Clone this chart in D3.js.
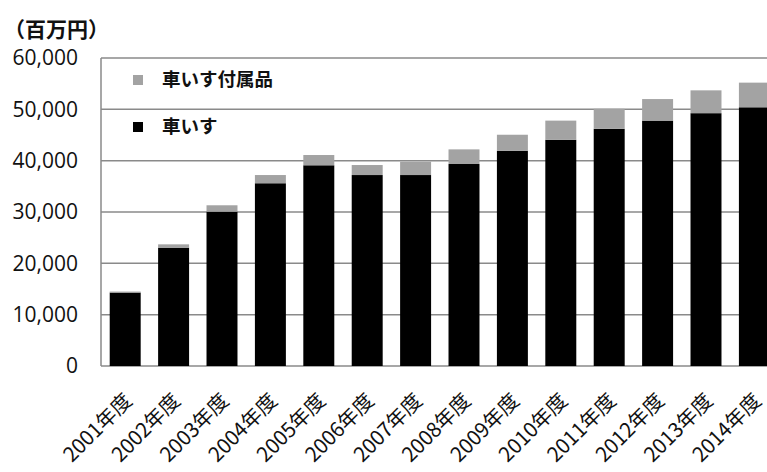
<!DOCTYPE html>
<html>
<head>
<meta charset="utf-8">
<script src="https://cdn.jsdelivr.net/npm/d3@7"></script>
<style>
  body { margin: 0; background: #fff; }
  text { font-family: "Noto Sans CJK JP", "Noto Sans", sans-serif; fill: #111; }
</style>
</head>
<body>
<div class="canvas"></div>
<script>
// data (百万円)
const years = ['2001年度', '2002年度', '2003年度', '2004年度', '2005年度', '2006年度', '2007年度',
  '2008年度', '2009年度', '2010年度', '2011年度', '2012年度', '2013年度', '2014年度'];
const wheelchair = [14300, 23050, 30060, 35600, 39100, 37200, 37200, 39350, 41900, 44050, 46200, 47800, 49250, 50400];
const accessory = [200, 650, 1250, 1600, 2000, 1950, 2600, 2850, 3150, 3750, 3900, 4200, 4450, 4800];
const yTicks = [0, 10000, 20000, 30000, 40000, 50000, 60000];
const seriesNames = ['車いす', '車いす付属品'];
const colors = ['#000000', '#a3a3a3'];

const svg = d3.select('.canvas')
    .append('svg')
    .attr('width', 767)
    .attr('height', 472);

// plot area runs off the right edge, like the cropped original
const margin = { top: 58, left: 101, bottom: 106 };
const graphHeight = 472 - margin.top - margin.bottom;
const graphWidth = 14 * 48.4;

const graph = svg.append('g')
    .attr('transform', `translate(${margin.left}, ${margin.top})`);

const yScale = d3.scaleLinear()
    .domain([0, 60000])
    .range([graphHeight, 0]);

const xScale = d3.scaleBand()
    .domain(years)
    .range([0, graphWidth])
    .paddingInner(0.36)
    .paddingOuter(0.18);

// gridlines
graph.selectAll('line.grid')
    .data(yTicks)
    .enter()
    .append('line')
    .attr('class', 'grid')
    .attr('x1', 0)
    .attr('x2', graphWidth)
    .attr('y1', d => yScale(d))
    .attr('y2', d => yScale(d))
    .attr('stroke', '#8a8a8a')
    .attr('stroke-width', 1.5);

// left border
graph.append('line')
    .attr('x1', 0).attr('x2', 0)
    .attr('y1', 0).attr('y2', graphHeight)
    .attr('stroke', '#8a8a8a')
    .attr('stroke-width', 1.5);

// stacked bars
const rows = years.map((y, i) => ({ year: y, '車いす': wheelchair[i], '車いす付属品': accessory[i] }));
const stacked = d3.stack().keys(seriesNames)(rows);

graph.selectAll('g.series')
    .data(stacked)
    .enter()
    .append('g')
    .attr('fill', (d, i) => colors[i])
    .selectAll('rect')
    .data(d => d)
    .enter()
    .append('rect')
    .attr('x', d => xScale(d.data.year))
    .attr('width', xScale.bandwidth())
    .attr('y', d => yScale(d[1]))
    .attr('height', d => yScale(d[0]) - yScale(d[1]));

// y axis labels
const yAxis = d3.axisLeft(yScale)
    .tickValues(yTicks)
    .tickSize(0)
    .tickPadding(23)
    .tickFormat(d3.format(','));
const yAxisGroup = graph.append('g').call(yAxis);
yAxisGroup.select('.domain').remove();
yAxisGroup.selectAll('text')
    .style('font-size', '21px')
    .style('font-family', '"Open Sans", sans-serif')
    .attr('fill', '#111');

// x axis labels, rotated
graph.selectAll('text.xlabel')
    .data(years)
    .enter()
    .append('text')
    .attr('class', 'xlabel')
    .attr('text-anchor', 'end')
    .attr('transform', d => `translate(${xScale(d) + xScale.bandwidth() / 2 + 8}, ${graphHeight + 36}) rotate(-45)`)
    .style('font-size', '20.5px')
    .text(d => d);

// unit label
svg.append('text')
    .attr('x', 4)
    .attr('y', 37)
    .style('font-size', '21px')
    .style('font-weight', 'bold')
    .text('（百万円）');

// legend (top item is accessory)
const legend = svg.append('g')
    .attr('transform', 'translate(133, 75)');
const legendItems = [seriesNames[1], seriesNames[0]];
legend.selectAll('rect')
    .data(legendItems)
    .enter()
    .append('rect')
    .attr('x', 0)
    .attr('y', (d, i) => i * 47)
    .attr('width', 10)
    .attr('height', 10)
    .attr('fill', d => colors[seriesNames.indexOf(d)]);
legend.selectAll('text')
    .data(legendItems)
    .enter()
    .append('text')
    .attr('x', 29)
    .attr('y', (d, i) => i * 47 + 5)
    .attr('dy', '0.35em')
    .style('font-size', '18.5px')
    .style('font-weight', 'bold')
    .text(d => d);
</script>
</body>
</html>
